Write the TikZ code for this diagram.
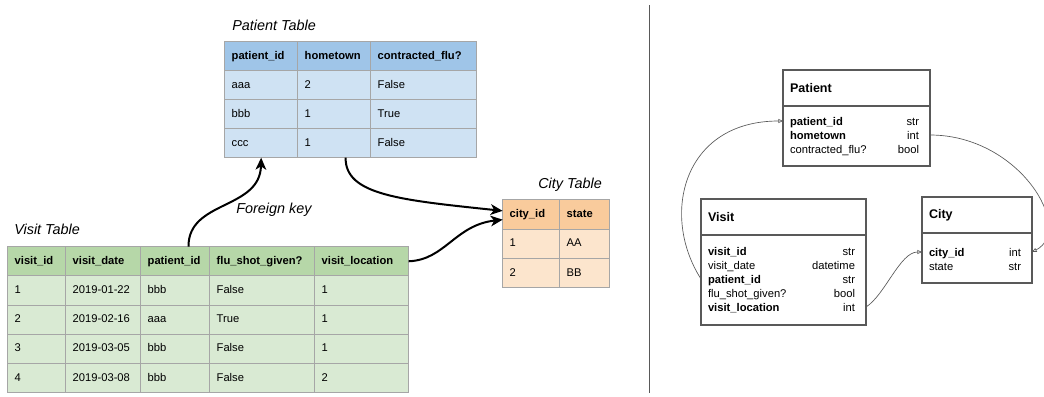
\documentclass[tikz,border=0pt]{standalone}
\usepackage{fontspec}
\setmainfont{Liberation Sans}
\usetikzlibrary{matrix,positioning,arrows.meta}

\definecolor{pathead}{HTML}{9FC5E8}
\definecolor{patcell}{HTML}{CFE2F3}
\definecolor{vishead}{HTML}{B6D7A8}
\definecolor{viscell}{HTML}{D9EAD3}
\definecolor{cithead}{HTML}{F9CB9C}
\definecolor{citcell}{HTML}{FCE5CD}
\definecolor{tblgray}{HTML}{A6A6A6}
\definecolor{erline}{HTML}{595959}

\newcommand\tblfont{\fontsize{8.4}{10}\selectfont}
\newcommand\keyrow[2]{\hspace*{5.25pt}\textbf{#1}\hfill #2\kern8.25pt}
\newcommand\attrrow[2]{\hspace*{5.25pt}#1\hfill #2\kern8.25pt}

\tikzset{
  tbl/.style={matrix of nodes, inner sep=0pt, column sep=-0.6pt, row sep=-0.6pt, anchor=north west,
    nodes={draw=tblgray, line width=0.6pt, outer sep=0pt, inner xsep=5.25pt, inner ysep=0pt,
      text height=6.3pt, text depth=1.8pt, align=left, anchor=center, font=\tblfont}},
  tbltitle/.style={anchor=base west, inner sep=0pt, font=\fontsize{10.8}{13}\selectfont\itshape},
  foreign/.style={line width=1.5pt, -{Stealth[length=9pt,width=8pt,inset=2.5pt]}},
  erbox/.style={draw=erline, line width=0.9pt, fill=white, outer sep=0pt, anchor=north west, inner xsep=5.25pt, align=left},
  erhead/.style={erbox, font=\fontsize{9.4}{11}\selectfont\bfseries, minimum height=27pt},
  erfield/.style={inner sep=0pt, outer sep=0pt, anchor=north west, minimum height=10.5pt, text height=8.25pt, text depth=2.25pt, align=left, font=\tblfont},
  erlink/.style={draw=erline, line width=0.5pt, -{Triangle[open,length=3.5pt,width=3pt]}},
}

\begin{document}
\begin{tikzpicture}[x=0.75pt, y=-0.75pt]
\useasboundingbox (0,0) rectangle (1044,396);

% tables on the left
\node[tbltitle] (pttitle) at (232,30) {Patient Table};
\matrix (pt) [tbl, nodes={fill=patcell, minimum height=21.75pt},
  column 1/.style={nodes={text width=44.25pt}},
  column 2/.style={nodes={text width=44.25pt}},
  column 3/.style={nodes={text width=69pt}},
  row 1/.style={nodes={fill=pathead, font=\tblfont\bfseries}}] at (224,41) {
  patient\_id & hometown & contracted\_flu? \\
  aaa & 2 & False \\
  bbb & 1 & True \\
  ccc & 1 & False \\
};

\node[tbltitle] (vttitle) at (14,234) {Visit Table};
\matrix (vt) [tbl, nodes={fill=viscell, minimum height=21.9pt},
  column 1/.style={nodes={text width=33pt}},
  column 2/.style={nodes={text width=45.75pt}},
  column 3/.style={nodes={text width=41.25pt}},
  column 4/.style={nodes={text width=68.25pt}},
  column 5/.style={nodes={text width=60pt}},
  row 1/.style={nodes={fill=vishead, font=\tblfont\bfseries}}] at (7,246) {
  visit\_id & visit\_date & patient\_id & flu\_shot\_given? & visit\_location \\
  1 & 2019-01-22 & bbb & False & 1 \\
  2 & 2019-02-16 & aaa & True & 1 \\
  3 & 2019-03-05 & bbb & False & 1 \\
  4 & 2019-03-08 & bbb & False & 2 \\
};

\node[tbltitle] (cttitle) at (538,188) {City Table};
\matrix (ct) [tbl, nodes={fill=citcell, minimum height=22pt},
  column 1/.style={nodes={text width=32.25pt}},
  column 2/.style={nodes={text width=27pt}},
  row 1/.style={nodes={fill=cithead, font=\tblfont\bfseries}}] at (502,199) {
  city\_id & state \\
  1 & AA \\
  2 & BB \\
};

\node[tbltitle] (fklabel) at (236,213) {Foreign key};

\draw[foreign] ([xshift=10pt]vt-1-3.north) .. controls (188,200) and (260,210) .. (pt-4-1.south);
\draw[foreign] ([xshift=8.6pt]pt-4-2.south) .. controls (345,195) and (400,200) .. ([yshift=2.6pt]ct-1-1.west);
\draw[foreign] (vt-1-5.east) .. controls (445,260) and (455,225) .. ([yshift=-4pt]ct-1-1.west);

% divider
\draw[erline, line width=0.75pt] (649,5) -- (649,393);

% schema on the right
\node[erhead, text width=99.75pt] (erpat) at (783,70) {Patient};
\node[erbox, text width=99.75pt, minimum height=45pt, below=0pt of erpat] (erpatb) {};
\node[erfield, text width=110.25pt] (pf1) at (783,114) {\keyrow{patient\_id}{str}};
\node[erfield, text width=110.25pt, below=0pt of pf1] (pf2) {\keyrow{hometown}{int}};
\node[erfield, text width=110.25pt, below=0pt of pf2] (pf3) {\attrrow{contracted\_flu?}{bool}};

\node[erhead, text width=113.25pt] (ervis) at (701,199) {Visit};
\node[erbox, text width=113.25pt, minimum height=67.5pt, below=0pt of ervis] (ervisb) {};
\node[erfield, text width=123.75pt] (vf1) at (701,244) {\keyrow{visit\_id}{str}};
\node[erfield, text width=123.75pt, below=0pt of vf1] (vf2) {\attrrow{visit\_date}{datetime}};
\node[erfield, text width=123.75pt, below=0pt of vf2] (vf3) {\keyrow{patient\_id}{str}};
\node[erfield, text width=123.75pt, below=0pt of vf3] (vf4) {\attrrow{flu\_shot\_given?}{bool}};
\node[erfield, text width=123.75pt, below=0pt of vf4] (vf5) {\keyrow{visit\_location}{int}};

\node[erhead, text width=72pt] (ercit) at (922,197) {City};
\node[erbox, text width=72pt, minimum height=37.5pt, below=0pt of ercit] (ercitb) {};
\node[erfield, text width=82.5pt] (cf1) at (922,245) {\keyrow{city\_id}{int}};
\node[erfield, text width=82.5pt, below=0pt of cf1] (cf2) {\attrrow{state}{str}};

\draw[erlink] (vf3.west) .. controls (660,215) and (683,121) .. (pf1.west);
\draw[erlink] (pf2.east) .. controls (1020,135) and (1075,230) .. (cf1.east);
\draw[erlink] (vf5.east) .. controls (885,295) and (900,252) .. (cf1.west);
\end{tikzpicture}
\end{document}
